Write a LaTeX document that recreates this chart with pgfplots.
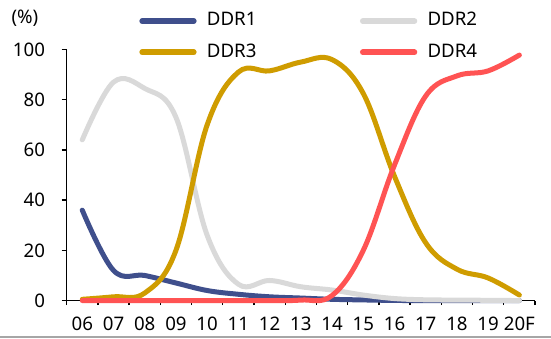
\documentclass[border=0pt]{standalone}
\usepackage{pgfplots}
\pgfplotsset{compat=1.18}
\usepackage{fontspec}
\setmainfont{Noto Sans}
\definecolor{cA}{HTML}{3F4F8C}
\definecolor{cB}{HTML}{D9D9D9}
\definecolor{cC}{HTML}{CF9C00}
\definecolor{cD}{HTML}{FF5353}
\definecolor{sep}{HTML}{A6A6A6}
\newcommand\myfont{\fontsize{14}{17}\selectfont}
\begin{document}
\begin{tikzpicture}
\useasboundingbox (-50pt,-28.1pt) rectangle (363.2pt,225.4pt);
\fill[sep] (-50pt,-28.1pt) rectangle (363.2pt,-26.2pt);
\begin{axis}[
  at={(0,0)}, anchor=south west,
  scale only axis, width=351.2pt, height=188.25pt,
  xmin=-0.5, xmax=14.5, ymin=0, ymax=100,
  clip=false,
  axis x line*=bottom, axis y line*=left,
  axis line style={black, line width=1.1pt},
  xtick={0,...,14},
  xticklabels={06,07,08,09,10,11,12,13,14,15,16,17,18,19,20F},
  major x tick style={draw=none},
  minor xtick={-0.5,0.5,...,14.5},
  minor tick length=3.5pt,
  ytick={0,20,...,100},
  major tick length=3.75pt,
  tick align=outside,
  tick style={black, line width=1pt},
  tick label style={font=\myfont},
  /pgf/number format/assume math mode=true,
  xticklabel style={yshift=-5pt},
  yticklabel style={xshift=-9pt},
  legend columns=2,
  legend image code/.code={\draw[#1, line width=4.2pt, line cap=round] (0pt,0.36em) -- (38.75pt,0.36em);},
  legend style={draw=none, fill=none, inner sep=0pt, outer sep=0pt,
    font=\myfont,
    at={(rel axis cs:0,1)}, anchor=north west, xshift=54.5pt, yshift=27.85pt,
    nodes={inner sep=0pt, anchor=base west},
    row sep=11.75pt,
    /tikz/every odd column/.append style={column sep=7.75pt},
    /tikz/every even column/.append style={column sep=77.6pt}},
]
\addplot[cA, line width=3.75pt, line cap=round, smooth, tension=0.62] coordinates {
(0,36) (1,12) (2,10) (3,7) (4,4) (5,2.5) (6,1.5) (7,1) (8,0.5) (9,0.25) (10,0.05) (11,0) (12,0) (13,0) (14,0)};
\addlegendentry{DDR1}
\addplot[cB, line width=3.75pt, line cap=round, smooth, tension=0.62] coordinates {
(0,64) (1,87) (2,84.5) (3,73) (4,26) (5,6.5) (6,8) (7,5.5) (8,4.2) (9,2.2) (10,0.8) (11,0.3) (12,0.2) (13,0.1) (14,0)};
\addlegendentry{DDR2}
\addplot[cC, line width=3.75pt, line cap=round, smooth, tension=0.62] coordinates {
(0,0.5) (1,1.5) (2,3) (3,20) (4,70) (5,91) (6,91.5) (7,95) (8,96) (9,82.5) (10,49.5) (11,23) (12,12.5) (13,9) (14,2.2)};
\addlegendentry{DDR3}
\addplot[cD, line width=3.75pt, line cap=round, smooth, tension=0.62] coordinates {
(0,0) (1,0) (2,0) (3,0) (4,0) (5,0) (6,0) (7,0.2) (8,2) (9,20) (10,54) (11,81.5) (12,89.5) (13,91.5) (14,97.8)};
\addlegendentry{DDR4}
\end{axis}
\node[font=\myfont] at (-31.3pt,211.9pt) {(\%)};
\end{tikzpicture}
\end{document}
